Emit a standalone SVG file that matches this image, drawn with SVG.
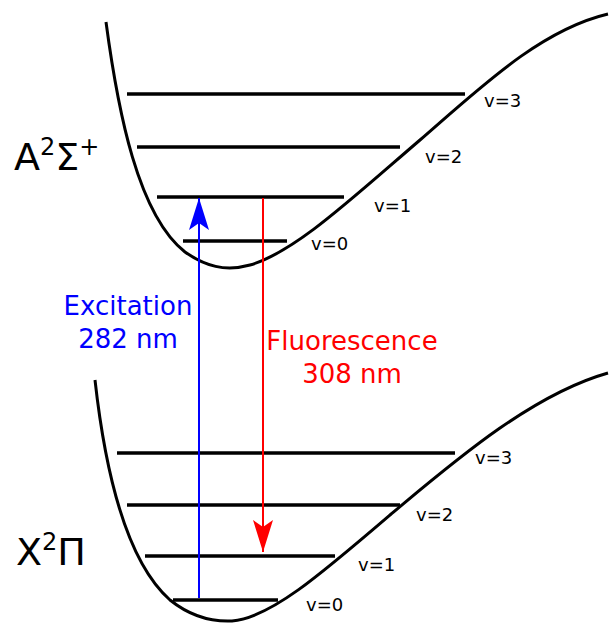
<svg xmlns="http://www.w3.org/2000/svg" width="610" height="624" viewBox="0 0 610 624">
<style>
.curve{fill:none;stroke:#000;stroke-width:3}
.lvl{stroke:#000;stroke-width:3.5}
.v{font-family:"DejaVu Sans",sans-serif;font-size:18px;fill:#000}
.st{font-family:"DejaVu Sans",sans-serif;font-size:38px;fill:#000}
.sup{font-size:24px}
.lab{font-family:"DejaVu Sans",sans-serif;font-size:26px;text-anchor:middle}
</style>
<defs>
<marker id="ab" viewBox="0 0 32 20" refX="32" refY="10" markerWidth="32" markerHeight="20" markerUnits="userSpaceOnUse" orient="auto">
<path d="M32,10 L0,0 L7,10 L0,20 Z" fill="#00f"/>
</marker>
<marker id="ar" viewBox="0 0 32 20" refX="32" refY="10" markerWidth="32" markerHeight="20" markerUnits="userSpaceOnUse" orient="auto">
<path d="M32,10 L0,0 L7,10 L0,20 Z" fill="#f00"/>
</marker>
</defs>
<g id="upper-state">
<path class="curve" d="M106,22 C118,112 138,215 185,252 C205,266 225,272 250,265 C295,252 350,200 420,140 C480,88 540,30 608,14"/>
<line class="lvl" x1="127" y1="94" x2="465" y2="94"/>
<line class="lvl" x1="137" y1="147" x2="400" y2="147"/>
<line class="lvl" x1="157" y1="197" x2="344" y2="197"/>
<line class="lvl" x1="183" y1="241" x2="287" y2="241"/>
<text class="v" x="484" y="107">v=3</text>
<text class="v" x="425" y="163">v=2</text>
<text class="v" x="374" y="212">v=1</text>
<text class="v" x="311" y="250">v=0</text>
<text class="st" x="14" y="170">A<tspan class="sup" dy="-15">2</tspan><tspan dy="15">Σ</tspan><tspan class="sup" dy="-15">+</tspan></text>
</g>
<g id="lower-state">
<path class="curve" d="M95,380 C105,470 125,560 170,600 C190,616 210,622 232,621 C270,618 320,575 390,515 C450,465 530,395 608,373"/>
<line class="lvl" x1="117" y1="453" x2="455" y2="453"/>
<line class="lvl" x1="127" y1="505" x2="400" y2="505"/>
<line class="lvl" x1="145" y1="556" x2="335" y2="556"/>
<line class="lvl" x1="173" y1="600" x2="278" y2="600"/>
<text class="v" x="475" y="464">v=3</text>
<text class="v" x="416" y="521">v=2</text>
<text class="v" x="358" y="571">v=1</text>
<text class="v" x="306" y="611">v=0</text>
<text class="st" x="16" y="565">X<tspan class="sup" dy="-15">2</tspan><tspan dy="15">Π</tspan></text>
</g>
<g id="connectors">
<line x1="199" y1="598" x2="199" y2="198" stroke="#00f" stroke-width="2" marker-end="url(#ab)"/>
<line x1="263" y1="198" x2="263" y2="552" stroke="#f00" stroke-width="2" marker-end="url(#ar)"/>
</g>
<g id="labels">
<text class="lab" fill="#00f" x="128" y="315">Excitation</text>
<text class="lab" fill="#00f" x="128" y="348">282 nm</text>
<text class="lab" fill="#f00" x="352" y="350">Fluorescence</text>
<text class="lab" fill="#f00" x="352" y="383">308 nm</text>
</g>
</svg>
